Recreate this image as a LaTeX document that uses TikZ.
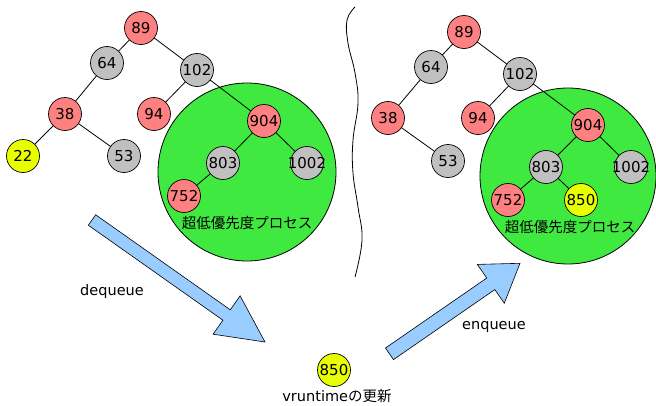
\documentclass[tikz,border=0pt]{standalone}
\usepackage{fontspec}
\setmainfont{DejaVu Sans}
\newfontfamily\jp{Noto Sans CJK JP}
\definecolor{nred}{RGB}{255,128,128}
\definecolor{ngray}{RGB}{192,192,192}
\definecolor{nyel}{RGB}{232,255,0}
\definecolor{ngreen}{RGB}{64,233,64}
\definecolor{ablue}{RGB}{153,204,255}
\pgfdeclarelayer{grplayer}
\pgfdeclarelayer{edgelayer}
\pgfsetlayers{grplayer,edgelayer,main}
\tikzset{
  tn/.style={circle, draw=black, line width=0.7pt, minimum size=33pt, inner sep=0pt, font=\fontsize{15}{15}\selectfont},
  rn/.style={tn, fill=nred},
  gn/.style={tn, fill=ngray},
  yn/.style={tn, fill=nyel},
  grp/.style={circle, draw=black, line width=0.8pt, fill=ngreen, inner sep=0pt},
  edge/.style={draw=black, line width=0.8pt},
  blk/.style={fill=ablue, draw=black, line width=0.6pt, line join=miter},
  lbl/.style={inner sep=0pt, font=\fontsize{14.5}{14.5}\selectfont},
}
\newcommand{\nt}[1]{\makebox[0pt]{#1}}
\begin{document}
\begin{tikzpicture}[x=1pt,y=-1pt]
\useasboundingbox (0,0) rectangle (656,405);
% group circles
\begin{pgfonlayer}{grplayer}
\node[grp, minimum size=178pt] (GL) at (247,172) {};
\node[grp, minimum size=176pt] (GR) at (568,176) {};
\end{pgfonlayer}
% left tree nodes
\node[rn] (L89) at (141,28) {\nt{89}};
\node[gn] (L64) at (107,63) {\nt{64}};
\node[gn] (L102) at (197,70) {\nt{102}};
\node[rn] (L38) at (65,114) {\nt{38}};
\node[rn] (L94) at (154,114) {\nt{94}};
\node[yn] (L22) at (23,156) {\nt{22}};
\node[gn] (L53) at (124,156) {\nt{53}};
\node[rn] (L904) at (264,121) {\nt{904}};
\node[gn] (L803) at (223,163) {\nt{803}};
\node[gn] (L1002) at (307,163) {\nt{1002}};
\node[rn] (L752) at (184,196) {\nt{752}};
% right tree nodes
\node[rn] (R89) at (464,32) {\nt{89}};
\node[gn] (R64) at (431,67) {\nt{64}};
\node[gn] (R102) at (520,74) {\nt{102}};
\node[rn] (R38) at (388,118) {\nt{38}};
\node[rn] (R94) at (478,118) {\nt{94}};
\node[gn] (R53) at (448,161) {\nt{53}};
\node[rn] (R904) at (588,125) {\nt{904}};
\node[gn] (R803) at (546,167) {\nt{803}};
\node[gn] (R1002) at (631,167) {\nt{1002}};
\node[rn] (R752) at (508,200) {\nt{752}};
\node[yn] (R850) at (581,200) {\nt{850}};
% bottom node
\node[yn] (B850) at (334,370) {\nt{850}};
% edges
\begin{pgfonlayer}{edgelayer}
\foreach \a/\b in {L89/L64, L89/L102, L64/L38, L38/L22, L38/L53, L102/L94, L102/L904, L904/L803, L904/L1002, L803/L752,
                   R89/R64, R89/R102, R64/R38, R38/R53, R102/R94, R102/R904, R904/R803, R904/R1002, R803/R752, R803/R850}
  \draw[edge] (\a.center) -- (\b.center);
\end{pgfonlayer}
% labels
\node[lbl] (tL) at (247,223) {\jp 超低優先度プロセス};
\node[lbl] (tR) at (570,227) {\jp 超低優先度プロセス};
\node[lbl] (deq) at (112,291) {dequeue};
\node[lbl] (enq) at (494,327) {enqueue};
\node[lbl] (vrt) at (337,396) {vruntime{\jp の更新}};
% block arrows
\draw[blk] (95.7,214.8) -- (230.3,309.8) -- (240.1,295.8) -- (265,342) -- (213.1,334.2) -- (222.9,320.2) -- (88.3,225.2) -- cycle;
\draw[blk] (393.5,359.6) -- (494.8,289.6) -- (504.3,303.2) -- (520,263.3) -- (477.3,264.4) -- (486.8,278.0) -- (385.5,348.0) -- cycle;
% wavy separator
\draw[line width=0.8pt] plot[smooth, tension=0.7] coordinates {(355,7) (347,20) (348,43) (355,73) (358,103) (353,140) (353,173) (358,207) (362,240) (355,277)};
\end{tikzpicture}
\end{document}
